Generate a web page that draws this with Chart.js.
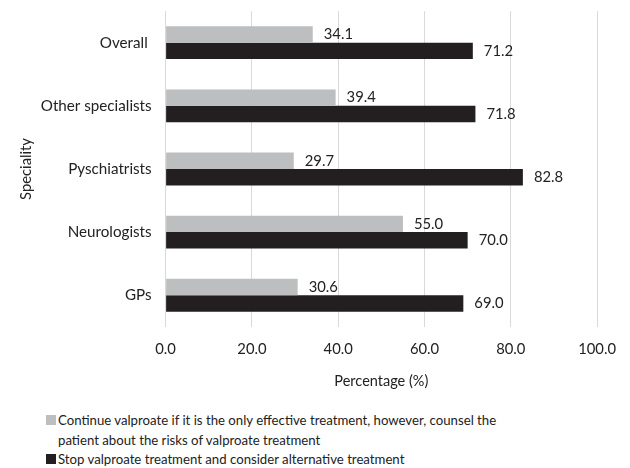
<!DOCTYPE html>
<html>
<head>
<meta charset="utf-8">
<script src="https://cdn.jsdelivr.net/npm/chart.js@4/dist/chart.umd.min.js"></script>
<style>
  html, body { margin: 0; padding: 0; background: #fff; }
  #wrap { position: relative; width: 630px; height: 468px; font-family: Lato, "Open Sans", sans-serif; overflow: hidden; }
  #box { position: absolute; left: 0; top: -12px; width: 630px; height: 406px; }
  #legend { position: absolute; left: 46px; top: 411px; width: 458px; font-size: 13.2px; color: #222; line-height: 19.5px; }
  .item { position: relative; padding-left: 12px; }
  .sw { position: absolute; left: 0; top: 4px; width: 10px; height: 10px; }
</style>
</head>
<body>
<div id="wrap">
  <div id="box"><canvas id="c"></canvas></div>
  <div id="legend"></div>
</div>
<script>
const categories = ["Overall ", "Other specialists", "Pyschiatrists", "Neurologists", "GPs"];
const continueValues = [34.1, 39.4, 29.7, 55.0, 30.6];
const stopValues = [71.2, 71.8, 82.8, 70.0, 69.0];
const seriesNames = [
  "Continue valproate if it is the only effective treatment, however, counsel the patient about the risks of valproate treatment",
  "Stop valproate treatment and consider alternative treatment"
];
const seriesColors = ["#bdbec0", "#231f20"];
const xTicks = [0, 20, 40, 60, 80, 100];

const FONT = "Lato, 'Open Sans', sans-serif";

// value labels printed just past the end of each bar
const valueLabels = {
  id: "valueLabels",
  afterDatasetsDraw(chart) {
    const ctx = chart.ctx;
    ctx.save();
    ctx.font = "14.8px " + FONT;
    ctx.fillStyle = "#222";
    ctx.textBaseline = "middle";
    ctx.textAlign = "left";
    chart.data.datasets.forEach((ds, i) => {
      chart.getDatasetMeta(i).data.forEach((bar, j) => {
        ctx.fillText(ds.data[j].toFixed(1), bar.x + 11, bar.y);
      });
    });
    ctx.restore();
  }
};

new Chart(document.getElementById("c"), {
  type: "bar",
  data: {
    labels: categories,
    datasets: [
      { label: seriesNames[0], data: continueValues, backgroundColor: seriesColors[0] },
      { label: seriesNames[1], data: stopValues, backgroundColor: seriesColors[1] }
    ]
  },
  options: {
    indexAxis: "y",
    responsive: true,
    maintainAspectRatio: false,
    animation: false,
    datasets: { bar: { categoryPercentage: 0.52, barPercentage: 1.0 } },
    layout: { padding: { top: 0, right: 12, left: 17, bottom: 0 } },
    plugins: { legend: { display: false }, tooltip: { enabled: false } },
    scales: {
      x: {
        min: 0, max: 100,
        afterBuildTicks(scale) { scale.ticks = xTicks.map(v => ({ value: v })); },
        ticks: {
          callback: v => Number(v).toFixed(1),
          color: "#222", font: { family: FONT, size: 14.8 }, padding: 14
        },
        grid: { color: "#d9d9d9", lineWidth: 1, drawTicks: false },
        border: { display: false },
        title: { display: true, text: "Percentage (%)", color: "#222", font: { family: FONT, size: 14.5 }, padding: { top: 0 } }
      },
      y: {
        ticks: { color: "#222", font: { family: FONT, size: 15.2 }, padding: 14 },
        grid: { display: false, drawTicks: false },
        border: { display: true, color: "#d9d9d9" },
        title: { display: true, text: "Speciality", color: "#222", font: { family: FONT, size: 14.8 }, padding: { top: 0, bottom: -8 } }
      }
    }
  },
  plugins: [valueLabels]
});

// legend below the chart, wrapping long entries
const legend = document.getElementById("legend");
seriesNames.forEach((name, i) => {
  const item = document.createElement("div");
  item.className = "item";
  const sw = document.createElement("span");
  sw.className = "sw";
  sw.style.background = seriesColors[i];
  item.appendChild(sw);
  item.appendChild(document.createTextNode(name));
  legend.appendChild(item);
});
</script>
</body>
</html>
